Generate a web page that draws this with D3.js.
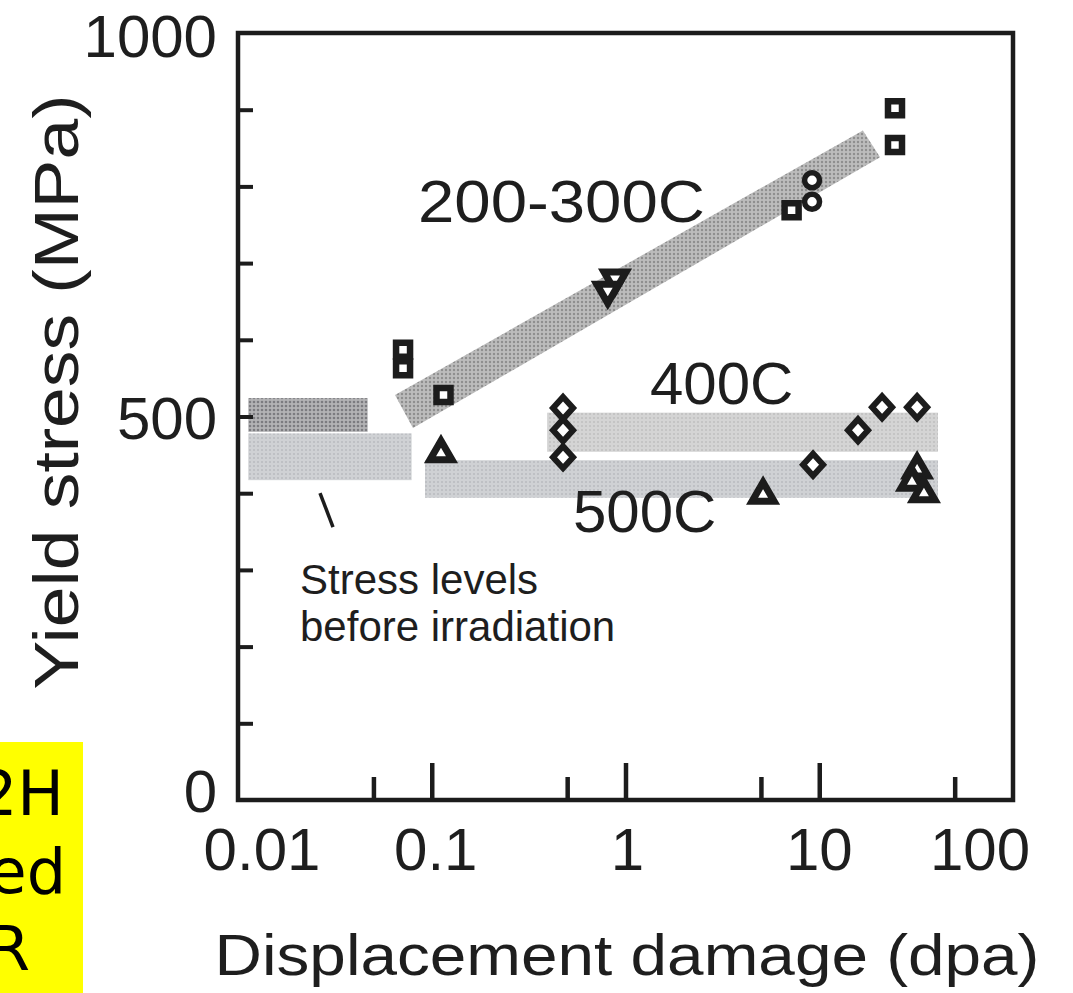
<!DOCTYPE html>
<html>
<head>
<meta charset="utf-8">
<script src="https://cdn.jsdelivr.net/npm/d3@7"></script>
<style>
  body { margin: 0; background: #fff; }
  svg text { font-family: "Liberation Sans", Arial, Helvetica, sans-serif; fill: #1e1e1e; }
</style>
</head>
<body>
<script>
// Axis ticks
const xLabelValues = [0.01, 0.1, 1, 10, 100];
const xLabelText = ["0.01", "0.1", "1", "10", "100"];
const xMajorTicks = [0.1, 1, 10];
const xMinorTicks = [0.05, 0.5, 5, 50];
const yTickValues = [100, 200, 300, 400, 500, 600, 700, 800, 900];
const yLabelValues = [0, 500, 1000];

// Shaded bands: [dpa from, dpa to, MPa low, MPa high]
const bandBeforeUpper = [0.0113, 0.0467, 480, 524];
const bandBeforeLower = [0.0113, 0.0787, 417, 478];
const band400C = [0.394, 41, 454, 505];
const band500C = [0.0923, 41, 394, 443];
// 200-300C trend band, corners as [dpa, MPa]
const band200to300 = [[0.0646, 528], [16.8, 873], [20.6, 838], [0.080, 485]];

// Measured points [dpa, MPa]
const squares200to300 = [[0.0711, 587], [0.0711, 563], [0.115, 528], [7.2, 769], [24.6, 902], [24.6, 854]];
const circles200to300 = [[9.18, 808], [9.18, 780]];
const invTriangles200to300 = [[0.883, 678], [0.81, 662]];
const diamonds400C = [[0.476, 511], [0.476, 482], [0.476, 447], [9.29, 437], [15.85, 482], [21.1, 512], [32, 512]];
const triangles500C = [[0.1116, 454], [5.13, 400], [32, 433], [30.1, 417], [34.7, 402]];

const W = 1073, H = 993;
const plot = { left: 238, right: 1013, top: 33, bottom: 800 };

const svg = d3.select("body").append("svg").attr("width", W).attr("height", H);

const x = d3.scaleLog().domain([0.01, 100]).range([plot.left, plot.right]);
const y = d3.scaleLinear().domain([0, 1000]).range([plot.bottom, plot.top]);

// halftone-like textures for the shaded bands
const defs = svg.append("defs");
function dotPattern(id, base, dot, r) {
  const p = defs.append("pattern").attr("id", id).attr("width", 4).attr("height", 4)
    .attr("patternUnits", "userSpaceOnUse");
  p.append("rect").attr("width", 4).attr("height", 4).attr("fill", base);
  p.append("circle").attr("cx", 2).attr("cy", 2).attr("r", r).attr("fill", dot);
}
dotPattern("dotsDark", "#b3b3b5", "#7c7c80", 1.3);
dotPattern("dotsBand", "#bcbcbc", "#8e8e8e", 1.2);
dotPattern("dotsLight", "#cfd1d4", "#b9bbbf", 1.0);
dotPattern("dotsLight2", "#d4d4d4", "#bfbfbf", 1.0);

function rectBand(b, fill) {
  svg.append("rect")
    .attr("x", x(b[0])).attr("width", x(b[1]) - x(b[0]))
    .attr("y", y(b[3])).attr("height", y(b[2]) - y(b[3]))
    .attr("fill", fill);
}
rectBand(bandBeforeLower, "url(#dotsLight)");
rectBand(bandBeforeUpper, "url(#dotsDark)");
rectBand(band500C, "url(#dotsLight)");
rectBand(band400C, "url(#dotsLight2)");

svg.append("path")
  .attr("d", d3.line().x(d => x(d[0])).y(d => y(d[1]))(band200to300) + "Z")
  .attr("fill", "url(#dotsBand)");

// Marker shapes
const ink = "#1c1c1c";
function drawMarks(data, pathFn, sw) {
  svg.append("g").selectAll("path").data(data).join("path")
    .attr("transform", d => `translate(${x(d[0])},${y(d[1])})`)
    .attr("d", pathFn)
    .attr("fill", "#fff").attr("stroke", ink).attr("stroke-width", sw)
    .attr("stroke-linejoin", "miter");
}
const squarePath = () => "M-7,-7H7V7H-7Z";
const circlePath = () => d3.symbol().type(d3.symbolCircle).size(Math.PI * 7.5 * 7.5)();
const diamondPath = () => "M0,-11L10,0L0,11L-10,0Z";
const triUpPath = () => "M0,-11L11,8H-11Z";
const triDownPath = () => "M0,11L11,-8H-11Z";

drawMarks(squares200to300, squarePath, 6.5);
drawMarks(circles200to300, circlePath, 5.5);
drawMarks(diamonds400C, diamondPath, 6);
drawMarks(triangles500C, triUpPath, 7);
drawMarks(invTriangles200to300, triDownPath, 7);

// Frame
svg.append("rect")
  .attr("x", plot.left).attr("y", plot.top)
  .attr("width", plot.right - plot.left).attr("height", plot.bottom - plot.top)
  .attr("fill", "none").attr("stroke", ink).attr("stroke-width", 4.5);

// Inward ticks on the bottom axis
const gx = svg.append("g").attr("transform", `translate(0,${plot.bottom})`);
gx.call(d3.axisBottom(x).tickValues(xMajorTicks).tickSize(-37).tickFormat(""));
const gxm = svg.append("g").attr("transform", `translate(0,${plot.bottom})`);
gxm.call(d3.axisBottom(x).tickValues(xMinorTicks).tickSize(-23).tickFormat(""));
[gx, gxm].forEach(g => {
  g.select(".domain").remove();
  g.selectAll(".tick line").attr("stroke", ink).attr("stroke-width", 4.5);
});

// Inward ticks on the left axis
const gy = svg.append("g").attr("transform", `translate(${plot.left},0)`);
gy.call(d3.axisLeft(y).tickValues(yTickValues).tickSize(-15).tickFormat(""));
gy.select(".domain").remove();
gy.selectAll(".tick line").attr("stroke", ink).attr("stroke-width", 4);

// Tick labels
const xLabelShift = [24, 4, 2, 0, -33];
svg.append("g").selectAll("text").data(xLabelValues).join("text")
  .attr("x", (d, i) => x(d) + xLabelShift[i])
  .attr("y", 870)
  .attr("text-anchor", "middle")
  .attr("font-size", 60)
  .text((d, i) => xLabelText[i]);

const yLabelDy = [12, 22, 24];
svg.append("g").selectAll("text").data(yLabelValues).join("text")
  .attr("x", 217)
  .attr("y", (d, i) => y(d) + yLabelDy[i])
  .attr("text-anchor", "end")
  .attr("font-size", 60)
  .text(d => d);

// Axis titles
svg.append("text")
  .attr("x", 627).attr("y", 975)
  .attr("text-anchor", "middle")
  .attr("font-size", 58)
  .attr("textLength", 825).attr("lengthAdjust", "spacingAndGlyphs")
  .text("Displacement damage (dpa)");

svg.append("text")
  .attr("transform", "translate(78,392) rotate(-90)")
  .attr("text-anchor", "middle")
  .attr("font-size", 63)
  .attr("textLength", 595).attr("lengthAdjust", "spacingAndGlyphs")
  .text("Yield stress (MPa)");

// Series labels
svg.append("text").attr("x", 418).attr("y", 222).attr("font-size", 60)
  .attr("textLength", 287).attr("lengthAdjust", "spacingAndGlyphs").text("200-300C");
svg.append("text").attr("x", 650).attr("y", 404).attr("font-size", 60).text("400C");
svg.append("text").attr("x", 573).attr("y", 532).attr("font-size", 60).text("500C");

// Note on pre-irradiation levels
svg.append("line").attr("x1", 320).attr("y1", 493).attr("x2", 333).attr("y2", 527)
  .attr("stroke", ink).attr("stroke-width", 3.5);
svg.append("text").attr("x", 300).attr("y", 594).attr("font-size", 42).text("Stress levels");
svg.append("text").attr("x", 300).attr("y", 641).attr("font-size", 42).text("before irradiation");

// Yellow side note
svg.append("rect").attr("x", 0).attr("y", 742).attr("width", 83).attr("height", H - 742)
  .attr("fill", "#ffff00");
const noteLines = ["2H", "ed", "R"];
const noteRight = [64, 66, 30];
const noteBase = [815, 893, 970];
svg.append("g").selectAll("text").data(noteLines).join("text")
  .attr("x", (d, i) => noteRight[i]).attr("y", (d, i) => noteBase[i])
  .attr("text-anchor", "end")
  .attr("font-size", 62)
  .style("font-family", "'DejaVu Sans', Verdana, sans-serif")
  .style("fill", "#000")
  .text(d => d);
</script>
</body>
</html>
